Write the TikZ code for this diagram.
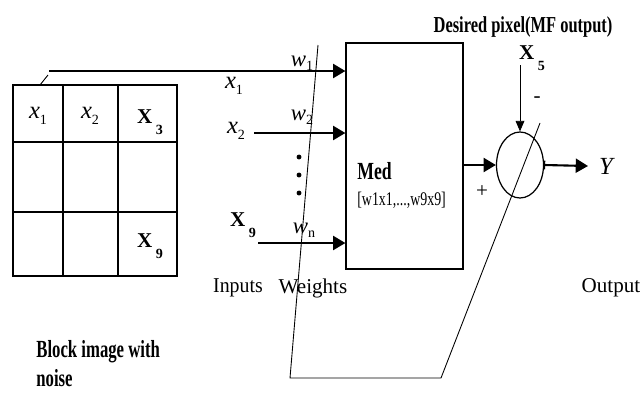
\documentclass[tikz,border=0pt]{standalone}
\usepackage{fontspec}
\setmainfont{Liberation Serif}
\usetikzlibrary{arrows.meta,shapes.geometric}

\newcommand{\narrow}[1]{\scalebox{0.72}[1]{#1}}
\newcommand{\Xsub}[1]{\textbf{X}\kern2pt\raisebox{-1.2ex}{\textbf{\footnotesize #1}}}
\newcommand{\xsub}[1]{\textit{x}\raisebox{-0.5ex}{\footnotesize #1}}
\newcommand{\wsub}[1]{\textit{w}\raisebox{-0.4ex}{\footnotesize #1}}

\begin{document}
\begin{tikzpicture}[x=0.02cm,y=-0.02cm,
    thickarrow/.style={line width=1.2pt,-{Triangle[length=7pt,width=8pt]}},
    thinline/.style={line width=0.5pt},
    cell/.style={line width=0.8pt},
    lbl/.style={font=\fontsize{12}{14}\selectfont, inner sep=0pt}]
    \useasboundingbox (0,0) rectangle (641,392);

    % block image 3x3
    \draw[cell] (13,85) rectangle (177,276);
    \foreach \x in {63,118} \draw[cell] (\x,85) -- (\x,276);
    \foreach \y in {142,212} \draw[cell] (13,\y) -- (177,\y);

    % blocks
    \node[draw, line width=0.7pt, minimum width=2.34cm, minimum height=4.52cm] (med) at (404.5,156) {};
    \node[draw, ellipse, line width=0.7pt, minimum width=0.94cm, minimum height=1.32cm, inner sep=0pt] (sum) at (520,165) {};

    % points
    \coordinate (tick0) at (40,85);
    \coordinate (tick1) at (48,75);
    \coordinate (in1) at (49,71);
    \coordinate (in2) at (254,133);
    \coordinate (in9) at (258,243);
    \coordinate (des) at (520,65);
    \coordinate (out) at (588,166);
    \coordinate (s1) at (318,45);
    \coordinate (s2) at (290,378);
    \coordinate (s3) at (441,378);
    \coordinate (s4) at (540,123);

    % connections
    \draw[thinline] (tick0) -- (tick1);
    \draw[thickarrow] (in1) -- (in1 -| med.west);
    \draw[thickarrow] (in2) -- (in2 -| med.west);
    \draw[thickarrow] (in9) -- (in9 -| med.west);
    \draw[thickarrow] (sum.west -| med.east) -- (sum.west);
    \draw[thinline, -{Triangle[length=6pt,width=5pt]}] (des) -- (sum.north);
    \draw[line width=1.2pt, {Bar[width=5pt,line width=0.6pt]}-{Triangle[length=7pt,width=8pt]}] (sum.east) -- (out);
    \draw[thinline] (s1) -- (s2) -- (s3) -- (s4);
    \foreach \y in {157,175,193} \fill (299,\y) circle (1.4pt);

    % cell labels
    \node[lbl] (c1) at (38,116) {\fontsize{14}{16}\selectfont\xsub{1}};
    \node[lbl] (c2) at (90,116) {\fontsize{14}{16}\selectfont\xsub{2}};
    \node[lbl] (c3) at (150,122) {\Xsub{3}};
    \node[lbl] (c9) at (150,246) {\Xsub{9}};

    % inputs and weights
    \node[lbl] (x1) at (234,86) {\fontsize{14}{16}\selectfont\xsub{1}};
    \node[lbl] (x2) at (236,131) {\fontsize{14}{16}\selectfont\xsub{2}};
    \node[lbl] (x9) at (243,225) {\Xsub{9}};
    \node[lbl] (w1) at (302,63) {\fontsize{13}{15}\selectfont\wsub{1}};
    \node[lbl] (w2) at (302,117) {\fontsize{13}{15}\selectfont\wsub{2}};
    \node[lbl] (wn) at (304,230) {\fontsize{13}{15}\selectfont\wsub{n}};

    % med block text
    \node[lbl, anchor=west] (medtxt) at (357,171) {\fontsize{14}{16}\selectfont\narrow{\textbf{Med}}};
    \node[lbl, anchor=west] (medsub) at (357,200) {\fontsize{11}{13}\selectfont\narrow{[w1x1,...,w9x9]}};

    % summing point
    \node[lbl] (plus) at (482,192) {+};
    \node[lbl] (minus) at (537,100) {-};
    \node[lbl] (x5) at (532,58) {\Xsub{5}};
    \node[lbl] (desired) at (523,27) {\fontsize{13}{15}\selectfont\narrow{\textbf{Desired pixel(MF output)}}};
    \node[lbl] (y) at (607,166) {\fontsize{14}{16}\selectfont\textit{Y}};

    % captions
    \node[lbl] (inputs) at (238,288) {\scalebox{0.94}[1]{Inputs}};
    \node[lbl] (weights) at (313,288) {Weights};
    \node[lbl] (output) at (611,288) {Output};
    \node[lbl, anchor=base west] (block) at (36,357) {\fontsize{14}{16}\selectfont\scalebox{0.68}[1]{\textbf{Block image with}}};
    \node[lbl, anchor=base west] (noise) at (36,386) {\fontsize{14}{16}\selectfont\scalebox{0.68}[1]{\textbf{noise}}};
\end{tikzpicture}
\end{document}
